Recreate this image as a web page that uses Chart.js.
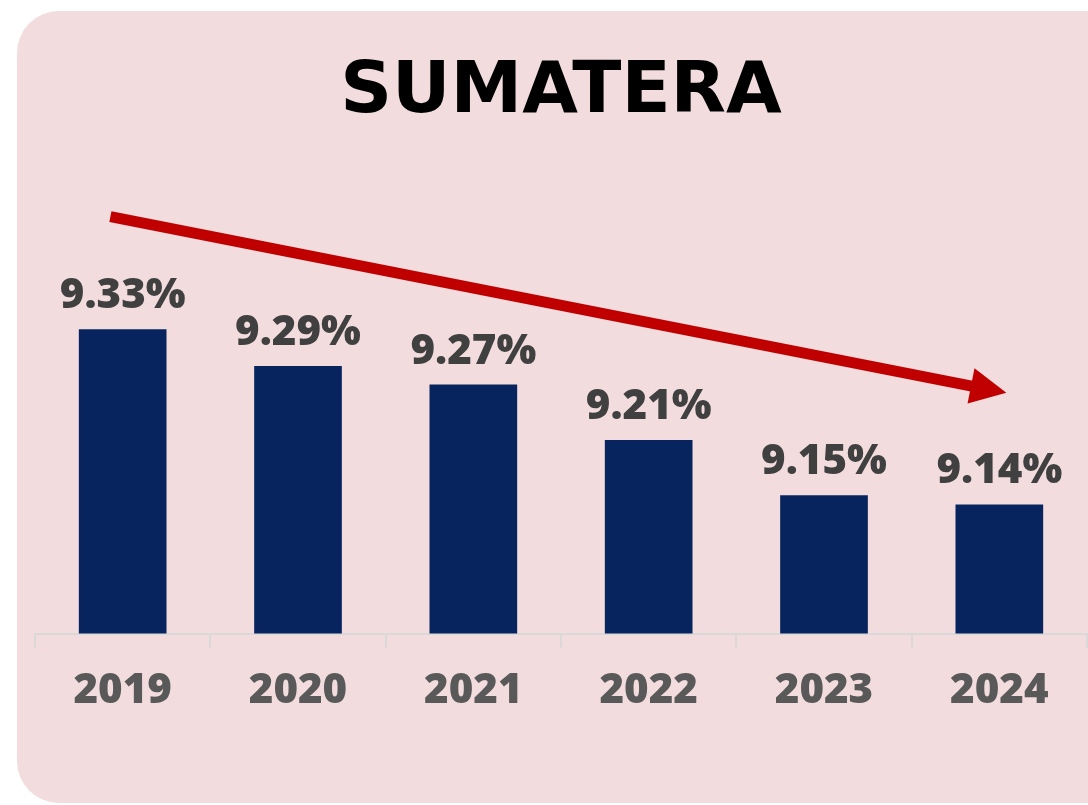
<!DOCTYPE html>
<html>
<head>
<meta charset="utf-8">
<script src="https://cdn.jsdelivr.net/npm/chart.js@4"></script>
<style>
  html, body { margin: 0; padding: 0; background: #ffffff; overflow: hidden; }
  .wrap { position: relative; width: 1088px; height: 805px; }
  .card {
    position: absolute; left: 17px; top: 11px; width: 1120px; height: 792px;
    background: #f2dcdd; border-radius: 42px;
  }
  #sumChart { position: absolute; left: 0; top: 0; }
</style>
</head>
<body>
<div class="wrap">
  <div class="card"></div>
  <canvas id="sumChart" width="1088" height="805"></canvas>
</div>
<script>
// chart values
const years = ['2019', '2020', '2021', '2022', '2023', '2024'];
const rates = [9.33, 9.29, 9.27, 9.21, 9.15, 9.14];
const titleText = 'SUMATERA';
// trend arrow, in (category index, value) units
const arrowFrom = [-0.07, 9.452];
const arrowTo = [5.04, 9.261];

// percent labels over each bar
const valueLabels = {
  id: 'valueLabels',
  afterDatasetsDraw(chart) {
    const ctx = chart.ctx;
    const bars = chart.getDatasetMeta(0).data;
    ctx.save();
    ctx.font = '800 42px "Open Sans"';
    ctx.fillStyle = '#404040';
    ctx.textAlign = 'center';
    ctx.textBaseline = 'alphabetic';
    bars.forEach((bar, i) => {
      ctx.fillText(rates[i].toFixed(2) + '%', bar.x, bar.y - 21);
    });
    ctx.restore();
  }
};

// red downward arrow
const trendArrow = {
  id: 'trendArrow',
  afterDraw(chart) {
    const { ctx, scales: { x, y } } = chart;
    const x1 = x.getPixelForValue(arrowFrom[0]), y1 = y.getPixelForValue(arrowFrom[1]);
    const x2 = x.getPixelForValue(arrowTo[0]), y2 = y.getPixelForValue(arrowTo[1]);
    const ang = Math.atan2(y2 - y1, x2 - x1);
    const headLen = 36, headHalf = 18;
    const bx = x2 - headLen * Math.cos(ang), by = y2 - headLen * Math.sin(ang);
    ctx.save();
    ctx.strokeStyle = '#c00000';
    ctx.fillStyle = '#c00000';
    ctx.lineWidth = 11;
    ctx.beginPath();
    ctx.moveTo(x1, y1);
    ctx.lineTo(bx + 2 * Math.cos(ang), by + 2 * Math.sin(ang));
    ctx.stroke();
    ctx.beginPath();
    ctx.moveTo(x2, y2);
    ctx.lineTo(bx + headHalf * Math.sin(ang), by - headHalf * Math.cos(ang));
    ctx.lineTo(bx - headHalf * Math.sin(ang), by + headHalf * Math.cos(ang));
    ctx.closePath();
    ctx.fill();
    ctx.restore();
  }
};

new Chart(document.getElementById('sumChart'), {
  type: 'bar',
  data: {
    labels: years,
    datasets: [{
      data: rates,
      backgroundColor: '#08245f',
      borderWidth: 0,
      barPercentage: 0.5,
      categoryPercentage: 1.0
    }]
  },
  options: {
    responsive: false,
    animation: false,
    layout: { padding: { left: 35, right: 1, top: 0, bottom: 71 } },
    plugins: {
      legend: { display: false },
      tooltip: { enabled: false },
      title: {
        display: true,
        text: titleText,
        color: '#000000',
        font: { family: '"DejaVu Sans"', size: 72, weight: 'bold', lineHeight: 1.2 },
        padding: { top: 50, bottom: 36 }
      }
    },
    scales: {
      x: {
        offset: true,
        border: { display: true, color: '#d9d9d9', width: 2 },
        grid: {
          display: true,
          offset: true,
          drawOnChartArea: false,
          drawTicks: true,
          tickLength: 14,
          color: '#d9d9d9',
          lineWidth: 2
        },
        ticks: {
          color: '#595959',
          padding: 18,
          font: { family: '"Open Sans"', size: 42, weight: '800' }
        }
      },
      y: {
        display: false,
        min: 9.0,
        max: 9.5
      }
    }
  },
  plugins: [valueLabels, trendArrow]
});
</script>
</body>
</html>
